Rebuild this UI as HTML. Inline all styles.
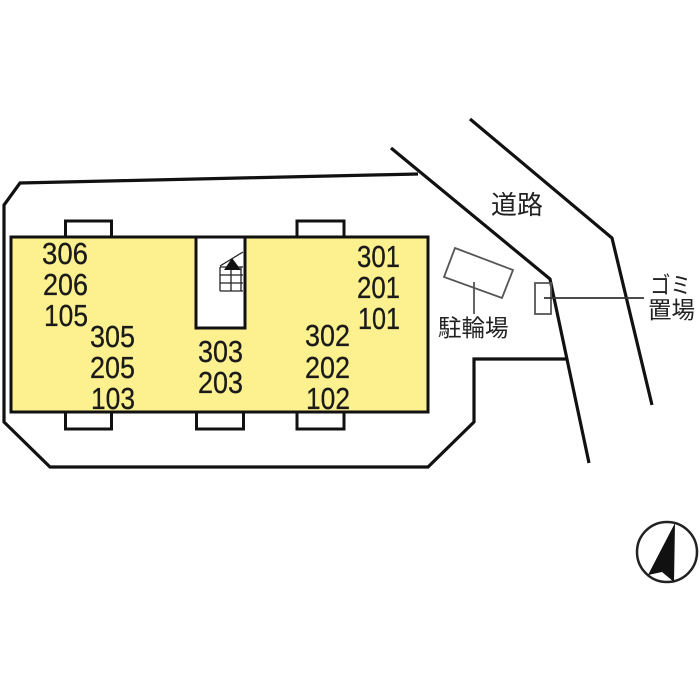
<!DOCTYPE html>
<html><head><meta charset="utf-8"><style>
html,body{margin:0;padding:0;background:#fff;width:700px;height:700px;overflow:hidden}
svg{display:block;filter:blur(0.35px)}
.n{font-family:"Liberation Sans",sans-serif;font-size:31px;fill:#1a1a1a;stroke:#1a1a1a;stroke-width:0.300px}
.j{font-family:"Liberation Sans","Noto Sans CJK JP",sans-serif;fill:#222}
</style></head><body>
<svg width="700" height="700" viewBox="0 0 700 700" xmlns="http://www.w3.org/2000/svg">
<rect width="700" height="700" fill="#fff"/>
<g fill="none" stroke="#111" stroke-width="3.200">
<path d="M418 174 L20 183 L4 205 L4 422 L50 467 L428 467 L474 422 L474 359 L566 359"/>
<path d="M391 148 L550 279 L589 463"/>
<path d="M470 119 L612 238 L652 405"/>
</g>
<g fill="#fff" stroke="#111" stroke-width="3">
<rect x="65.500" y="221" width="46" height="16"/>
<rect x="297" y="221" width="47" height="16"/>
<rect x="65.500" y="412" width="46" height="17"/>
<rect x="196.500" y="412" width="47" height="17"/>
<rect x="297" y="412" width="47" height="17"/>
</g>
<rect x="11" y="237" width="417" height="175" fill="#fdf18f" stroke="#111" stroke-width="3"/>
<rect x="196" y="237" width="49" height="91" fill="#fff" stroke="#111" stroke-width="3"/>
<g fill="none" stroke="#222" stroke-width="1.300">
<path d="M220 266 L243 252"/>
<path d="M220 267 H243 M220 275 H243 M220 283 H243 M220 291 H243 M220 267 V291 M231 267 V291 M241 267 V291"/>
</g>
<path d="M232 258 L241 270 H224 Z" fill="#111"/>
<g fill="none" stroke="#555" stroke-width="1.800">
<path d="M455 248 L513 270 L502 298 L444 277 Z"/>
<rect x="535" y="283" width="16" height="31"/>
<path d="M474 282 V314"/>
<path d="M544 298 H644" stroke="#333"/>
</g>
<g class="n">
<text x="42" y="264" textLength="46" lengthAdjust="spacingAndGlyphs">306</text>
<text x="43" y="295" textLength="45" lengthAdjust="spacingAndGlyphs">206</text>
<text x="44" y="326" textLength="44" lengthAdjust="spacingAndGlyphs">105</text>
<text x="90" y="347" textLength="45" lengthAdjust="spacingAndGlyphs">305</text>
<text x="90" y="378" textLength="45" lengthAdjust="spacingAndGlyphs">205</text>
<text x="91" y="409" textLength="44" lengthAdjust="spacingAndGlyphs">103</text>
<text x="198" y="362" textLength="45" lengthAdjust="spacingAndGlyphs">303</text>
<text x="198" y="393" textLength="45" lengthAdjust="spacingAndGlyphs">203</text>
<text x="357" y="267" textLength="43" lengthAdjust="spacingAndGlyphs">301</text>
<text x="357" y="298" textLength="43" lengthAdjust="spacingAndGlyphs">201</text>
<text x="358" y="329" textLength="42" lengthAdjust="spacingAndGlyphs">101</text>
<text x="305" y="346" textLength="45" lengthAdjust="spacingAndGlyphs">302</text>
<text x="305" y="378" textLength="45" lengthAdjust="spacingAndGlyphs">202</text>
<text x="306" y="409" textLength="44" lengthAdjust="spacingAndGlyphs">102</text>
</g>
<g class="j">
<text x="491" y="214" font-size="26">道路</text>
<text x="438" y="336" font-size="23.500">駐輪場</text>
<text x="650" y="293" font-size="23" textLength="41" lengthAdjust="spacingAndGlyphs">ゴミ</text>
<text x="648" y="318" font-size="23.500">置場</text>
</g>
<circle cx="667" cy="552" r="30" fill="#fff" stroke="#222" stroke-width="2.500"/>
<path d="M675 523 L648 575 L662 572 L674 582 Z" fill="#111"/>
</svg>
</body></html>
